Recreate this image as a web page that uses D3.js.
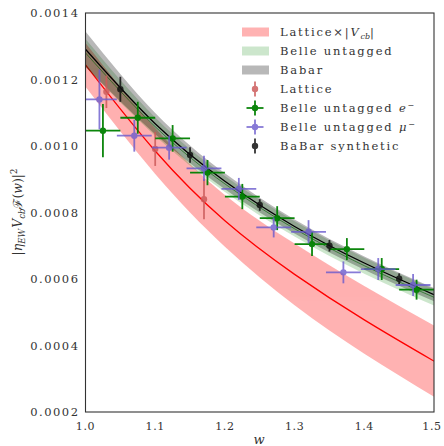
<!DOCTYPE html>
<html><head><meta charset="utf-8">
<script src="https://cdn.jsdelivr.net/npm/d3@7"></script>
<style>
body{margin:0;background:#fff}
text{font-family:"DejaVu Serif",serif;fill:#333}
</style>
</head><body>
<svg id="c" width="444" height="446"></svg>
<script>
// ---- data ----
const bandW = [1.0, 1.1, 1.2, 1.3, 1.4, 1.5];
const latticeCentral = [0.001244, 0.000985, 0.000775, 0.000614, 0.000477, 0.000353];
const latticeHalf    = [0.000066, 0.000069, 0.000078, 0.000093, 0.000102, 0.000107];
const belleCentral   = [0.001280, 0.001058, 0.000886, 0.000751, 0.000640, 0.000545];
const belleHalf      = [0.000042, 0.000028, 0.000024, 0.000023, 0.000024, 0.000025];
const babarCentral   = [0.001291, 0.001067, 0.000894, 0.000758, 0.000648, 0.000553];
const babarHalf      = [0.000053, 0.000032, 0.000024, 0.000021, 0.000020, 0.000020];

const latticePtW   = [1.03, 1.10, 1.17];
const latticePtV   = [0.001163, 0.000991, 0.000840];
const latticePtErr = [0.000049, 0.000051, 0.000060];

const belleEW   = [1.025, 1.075, 1.125, 1.175, 1.225, 1.275, 1.325, 1.375, 1.425, 1.475];
const belleEV   = [0.001046, 0.001085, 0.001023, 0.000920, 0.000848, 0.000783, 0.000705, 0.000690, 0.000630, 0.000568];
const belleEErr = [0.000080, 0.000048, 0.000040, 0.000038, 0.000038, 0.000036, 0.000036, 0.000033, 0.000033, 0.000030];

const belleMW   = [1.02, 1.07, 1.12, 1.17, 1.22, 1.27, 1.32, 1.37, 1.42, 1.47];
const belleMV   = [0.001140, 0.001031, 0.000995, 0.000933, 0.000871, 0.000755, 0.000742, 0.000620, 0.000630, 0.000582];
const belleMErr = [0.000090, 0.000048, 0.000036, 0.000038, 0.000033, 0.000030, 0.000035, 0.000033, 0.000033, 0.000033];
const binHalf = 0.025;

const babarPtW   = [1.05, 1.15, 1.25, 1.35, 1.45];
const babarPtV   = [0.0011705, 0.000973, 0.0008226, 0.000700, 0.000601];
const babarPtErr = [0.0000376, 0.000023, 0.0000175, 0.0000175, 0.000016];

const xTicks = [1.0, 1.1, 1.2, 1.3, 1.4, 1.5];
const yTicks = [0.0002, 0.0004, 0.0006, 0.0008, 0.0010, 0.0012, 0.0014];

// ---- layout ----
const svg = d3.select("#c");
const L = 85.5, R = 434, T = 13, B = 412;
const x = d3.scaleLinear().domain([1.0, 1.5]).range([L, R]);
const y = d3.scaleLinear().domain([0.0002, 0.0014]).range([B, T]);

svg.append("defs").append("clipPath").attr("id", "clip")
  .append("rect").attr("x", L).attr("y", T).attr("width", R - L).attr("height", B - T);
const plot = svg.append("g").attr("clip-path", "url(#clip)");

const idx = d3.range(bandW.length);
function band(c, h) {
  return d3.area().curve(d3.curveNatural)
    .x(i => x(bandW[i])).y0(i => y(c[i] - h[i])).y1(i => y(c[i] + h[i]))(idx);
}
function line(c) {
  return d3.line().curve(d3.curveNatural).x(i => x(bandW[i])).y(i => y(c[i]))(idx);
}

const COL = {
  pink: "#ff0000", green: "#008000", gray: "#000000",
  lat: "#cd5c5c", be: "#008000", bm: "#6a5acd", bb: "#111111"
};

// bands
plot.append("path").attr("d", band(latticeCentral, latticeHalf)).attr("fill", COL.pink).attr("fill-opacity", 0.3);
plot.append("path").attr("d", line(latticeCentral)).attr("fill", "none").attr("stroke", "#ff0000").attr("stroke-width", 1.3);
plot.append("path").attr("d", band(belleCentral, belleHalf)).attr("fill", COL.green).attr("fill-opacity", 0.2);
plot.append("path").attr("d", line(belleCentral)).attr("fill", "none").attr("stroke", COL.green).attr("stroke-opacity", 0.6).attr("stroke-width", 1);
plot.append("path").attr("d", band(babarCentral, babarHalf)).attr("fill", COL.gray).attr("fill-opacity", 0.28);
plot.append("path").attr("d", line(babarCentral)).attr("fill", "none").attr("stroke", "#000").attr("stroke-width", 1.2);

// points
function points(ws, vs, es, col, hasX, opacity) {
  const g = plot.append("g").attr("opacity", opacity);
  ws.forEach((w, i) => {
    g.append("line").attr("x1", x(w)).attr("x2", x(w))
      .attr("y1", y(vs[i] - es[i])).attr("y2", y(vs[i] + es[i]))
      .attr("stroke", col).attr("stroke-width", 1.8);
    if (hasX) g.append("line").attr("x1", x(w - binHalf)).attr("x2", x(w + binHalf))
      .attr("y1", y(vs[i])).attr("y2", y(vs[i]))
      .attr("stroke", col).attr("stroke-width", 1.8);
    g.append("circle").attr("cx", x(w)).attr("cy", y(vs[i])).attr("r", 3.2).attr("fill", col);
  });
}
points(latticePtW, latticePtV, latticePtErr, COL.lat, false, 0.85);
points(belleEW, belleEV, belleEErr, COL.be, true, 0.95);
points(belleMW, belleMV, belleMErr, COL.bm, true, 0.8);
points(babarPtW, babarPtV, babarPtErr, COL.bb, false, 0.85);

// frame
svg.append("rect").attr("x", L).attr("y", T).attr("width", R - L).attr("height", B - T)
  .attr("fill", "none").attr("stroke", "#333").attr("stroke-width", 1.1);

// ticks
const fs = 11.5, lsn = 1.5, ls = lsn + "px";
svg.selectAll(".xt").data(xTicks).enter().append("text")
  .attr("x", d => x(d) - (d === 1.5 ? 2 : 0)).attr("y", 430).attr("text-anchor", "middle")
  .attr("font-size", 11).style("letter-spacing", "0.6px").text(d => d3.format(".1f")(d));
svg.selectAll(".yt").data(yTicks).enter().append("text")
  .attr("x", 78 + lsn).attr("y", d => y(d) + 4).attr("text-anchor", "end")
  .attr("font-size", fs).style("letter-spacing", ls).text(d => d3.format(".4f")(d));

// axis labels
svg.append("text").attr("x", 259).attr("y", 444).attr("text-anchor", "middle")
  .attr("font-size", 13).attr("font-style", "italic").text("w");

const yl = svg.append("text").attr("transform", "translate(22,212) rotate(-90)")
  .attr("text-anchor", "middle").attr("font-size", 12.5);
yl.append("tspan").text("|");
yl.append("tspan").attr("font-style", "italic").text("η");
yl.append("tspan").attr("font-style", "italic").attr("font-size", 8.5).attr("dy", 3).text("EW");
yl.append("tspan").attr("font-style", "italic").attr("dy", -3).attr("dx", 1).text("V");
yl.append("tspan").attr("font-style", "italic").attr("font-size", 8.5).attr("dy", 3).text("cb");
yl.append("tspan").attr("dy", -3).text("ℱ(");
yl.append("tspan").attr("font-style", "italic").text("w");
yl.append("tspan").text(")|");
yl.append("tspan").attr("font-size", 8.5).attr("dy", -5).text("2");

// legend
const legRows = [
  {type: "patch", col: COL.pink, op: 0.3, label: ["Lattice×|", ["V", "i"], ["cb", "sub"], "|"]},
  {type: "patch", col: COL.green, op: 0.2, label: ["Belle untagged"]},
  {type: "patch", col: COL.gray, op: 0.28, label: ["Babar"]},
  {type: "pt", col: COL.lat, op: 0.85, hx: false, label: ["Lattice"]},
  {type: "pt", col: COL.be, op: 0.95, hx: true, label: ["Belle untagged ", ["e", "i"], ["−", "sup"]]},
  {type: "pt", col: COL.bm, op: 0.8, hx: true, label: ["Belle untagged ", ["μ", "i"], ["−", "sup"]]},
  {type: "pt", col: COL.bb, op: 0.85, hx: false, label: ["BaBar synthetic"]}
];
const leg = svg.append("g");
legRows.forEach((r, i) => {
  const cy = 32 + i * 19;
  if (r.type === "patch") {
    leg.append("rect").attr("x", 242).attr("y", cy - 4.5).attr("width", 27).attr("height", 9)
      .attr("fill", r.col).attr("fill-opacity", r.op);
  } else {
    const g = leg.append("g").attr("opacity", r.op);
    g.append("line").attr("x1", 255).attr("x2", 255).attr("y1", cy - 7.5).attr("y2", cy + 7.5)
      .attr("stroke", r.col).attr("stroke-width", 1.8);
    if (r.hx) g.append("line").attr("x1", 246.5).attr("x2", 263.5).attr("y1", cy).attr("y2", cy)
      .attr("stroke", r.col).attr("stroke-width", 1.8);
    g.append("circle").attr("cx", 255).attr("cy", cy).attr("r", 3.2).attr("fill", r.col);
  }
  const t = leg.append("text").attr("x", 280).attr("y", cy + 4).attr("font-size", fs)
    .style("letter-spacing", "1.8px");
  let shift = 0;
  r.label.forEach(p => {
    if (typeof p === "string") {
      t.append("tspan").attr("dy", -shift).text(p); shift = 0;
    } else if (p[1] === "i") {
      t.append("tspan").attr("dy", -shift).attr("font-style", "italic").text(p[0]); shift = 0;
    } else if (p[1] === "sub") {
      t.append("tspan").attr("dy", 3 - shift).attr("font-size", 8).attr("font-style", "italic").style("letter-spacing", "0px").text(p[0]); shift = 3;
    } else if (p[1] === "sup") {
      t.append("tspan").attr("dy", -4 - shift).attr("font-size", 8).text(p[0]); shift = -4;
    }
  });
});
</script>
</body></html>
